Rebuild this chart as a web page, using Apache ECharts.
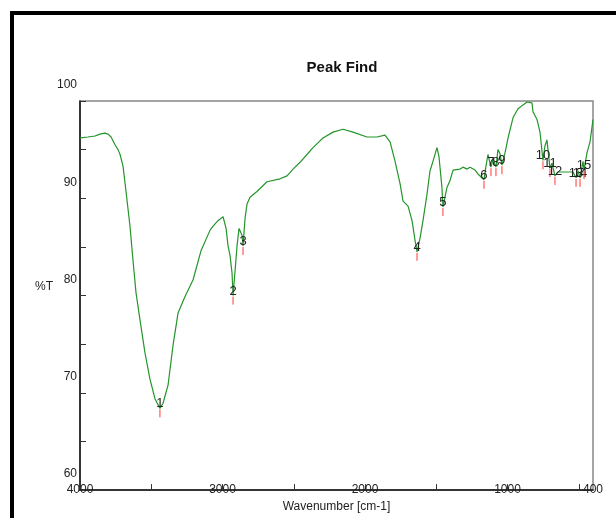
<!DOCTYPE html>
<html>
<head>
<meta charset="utf-8">
<script src="https://cdn.jsdelivr.net/npm/echarts@6/dist/echarts.min.js"></script>
<style>
  html, body { margin: 0; padding: 0; background: #fff; }
  #chart { width: 616px; height: 518px; }
</style>
</head>
<body>
<div id="chart"></div>
<script>
// spectrum: wavenumber (cm-1) and %T
var waveNumbers = [4000, 3944, 3895, 3860, 3825, 3803, 3782, 3754, 3733, 3719, 3698, 3677, 3649, 3628, 3607, 3579, 3544, 3509, 3474, 3439,
  3418, 3382, 3347, 3312, 3263, 3207, 3151, 3088, 3067, 3032, 2996, 2975, 2961, 2947, 2933, 2926, 2912, 2898, 2884, 2863,
  2856, 2842, 2828, 2807, 2758, 2688, 2596, 2547, 2505, 2456, 2407, 2365, 2330, 2295, 2224, 2154, 2084, 1986, 1916, 1860,
  1824, 1789, 1754, 1733, 1698, 1670, 1649, 1635, 1614, 1593, 1565, 1544, 1523, 1495, 1481, 1460, 1453, 1425, 1404, 1382,
  1333, 1312, 1284, 1263, 1228, 1207, 1165, 1151, 1137, 1116, 1102, 1081, 1067, 1053, 1039, 1017, 996, 961, 926, 891,
  863, 828, 821, 793, 772, 751, 737, 723, 716, 702, 688, 667, 646, 582, 540, 519, 505, 491, 470, 463,
  442, 421, 400];
var transmittance = [96.2, 96.3, 96.4, 96.6, 96.7, 96.6, 96.3, 95.5, 95.0, 94.5, 93.3, 90.7, 87.1, 83.6, 80.3, 77.5, 74.1, 71.4, 69.4, 68.4,
  68.9, 70.8, 74.9, 78.2, 79.9, 81.6, 84.6, 86.7, 87.1, 87.7, 88.1, 86.9, 85.1, 84.1, 82.3, 80.0, 82.5, 85.1, 86.9, 86.2,
  85.1, 87.9, 89.4, 90.1, 90.7, 91.7, 92.0, 92.3, 93.0, 93.7, 94.5, 95.2, 95.7, 96.2, 96.8, 97.1, 96.8, 96.3, 96.3, 96.5,
  95.8, 93.8, 91.5, 89.7, 89.2, 87.7, 85.7, 84.5, 85.9, 87.7, 90.4, 92.8, 93.8, 95.2, 94.3, 91.1, 89.1, 91.1, 91.8, 92.9,
  93.0, 93.2, 93.0, 93.2, 92.9, 92.5, 91.9, 93.3, 94.5, 93.2, 94.0, 93.2, 95.0, 94.6, 93.4, 94.7, 96.2, 98.3, 99.2, 99.6,
  99.9, 99.8, 98.9, 98.1, 96.8, 93.9, 95.4, 96.0, 95.0, 93.1, 93.6, 92.3, 92.7, 92.7, 92.7, 92.1, 92.8, 92.1, 93.8, 92.9,
  94.7, 95.8, 98.1];

// picked peaks
var peakLabels = ['1', '2', '3', '4', '5', '6', '7', '8', '9', '10', '11', '12', '13', '14', '15'];
var peakWave = [3439, 2926, 2856, 1635, 1453, 1165, 1116, 1081, 1039, 751, 702, 667, 519, 491, 463];
var peakT = [68.4, 80.0, 85.1, 84.5, 89.1, 91.9, 93.2, 93.2, 93.4, 93.9, 93.1, 92.3, 92.1, 92.1, 92.9];

// axis ticks / labels
var xLabelValues = [4000, 3000, 2000, 1000, 400];
var xTickValues = [4000, 3500, 3000, 2500, 2000, 1500, 1000, 500];

var FONT = '"Liberation Sans", Arial, sans-serif';

var lineData = waveNumbers.map(function (w, i) { return [w, transmittance[i]]; });
var peakData = peakWave.map(function (w, i) { return [w, peakT[i]]; });

var chart = echarts.init(document.getElementById('chart'));

var option = {
  backgroundColor: '#fff',
  animation: false,
  title: {
    text: 'Peak Find',
    left: 337,
    top: 55,
    textAlign: 'center',
    textStyle: { fontFamily: FONT, fontSize: 15, fontWeight: 'bold', color: '#111' }
  },
  grid: {
    left: 80, top: 101, right: 23, bottom: 24,
    show: true, borderColor: '#888', borderWidth: 1.5, backgroundColor: 'transparent'
  },
  xAxis: {
    type: 'value',
    min: 400,
    max: 4000,
    inverse: true,
    name: 'Wavenumber [cm-1]',
    nameLocation: 'middle',
    nameGap: 10,
    nameTextStyle: { fontFamily: FONT, fontSize: 12, color: '#222' },
    axisLine: { show: true, onZero: false, lineStyle: { color: '#111', width: 1.5 } },
    axisTick: { show: true, inside: true, length: 6, customValues: xTickValues, lineStyle: { color: '#333' } },
    axisLabel: {
      customValues: xLabelValues,
      margin: -6,
      fontFamily: FONT, fontSize: 12, color: '#222',
      formatter: function (v) { return String(v); }
    },
    splitLine: { show: false }
  },
  yAxis: {
    type: 'value',
    min: 60,
    max: 100,
    interval: 5,
    axisLine: { show: true, onZero: false, lineStyle: { color: '#111', width: 1.5 } },
    axisTick: { show: true, inside: true, length: 6, lineStyle: { color: '#333' } },
    axisLabel: {
      margin: 3,
      verticalAlign: 'bottom',
      padding: [0, 0, 10, 0],
      fontFamily: FONT, fontSize: 12, color: '#222',
      formatter: function (v) { return v % 10 === 0 ? String(v) : ''; }
    },
    splitLine: { show: false }
  },
  graphic: [
    { type: 'rect', shape: { x: 10, y: 11, width: 4, height: 507 }, style: { fill: '#000' } },
    { type: 'rect', shape: { x: 10, y: 11, width: 606, height: 4 }, style: { fill: '#000' } },
    {
      type: 'text', x: 44, y: 287,
      style: { text: '%T', align: 'center', verticalAlign: 'middle', font: '12px ' + FONT, fill: '#222' }
    }
  ],
  series: [
    {
      type: 'line',
      data: lineData,
      showSymbol: false,
      lineStyle: { color: '#23952a', width: 1.2 },
      z: 2
    },
    {
      type: 'custom',
      data: peakData,
      z: 3,
      renderItem: function (params, api) {
        var p = api.coord([api.value(0), api.value(1)]);
        return {
          type: 'group',
          children: [
            {
              type: 'line',
              shape: { x1: p[0], y1: p[1] + 1, x2: p[0], y2: p[1] + 9 },
              style: { stroke: '#ff3a3a', lineWidth: 1 }
            },
            {
              type: 'text',
              x: p[0], y: p[1] + 2,
              style: {
                text: peakLabels[params.dataIndex],
                align: 'center', verticalAlign: 'bottom',
                font: '13px ' + FONT, fill: '#222'
              }
            }
          ]
        };
      }
    }
  ]
};

chart.setOption(option);
</script>
</body>
</html>
